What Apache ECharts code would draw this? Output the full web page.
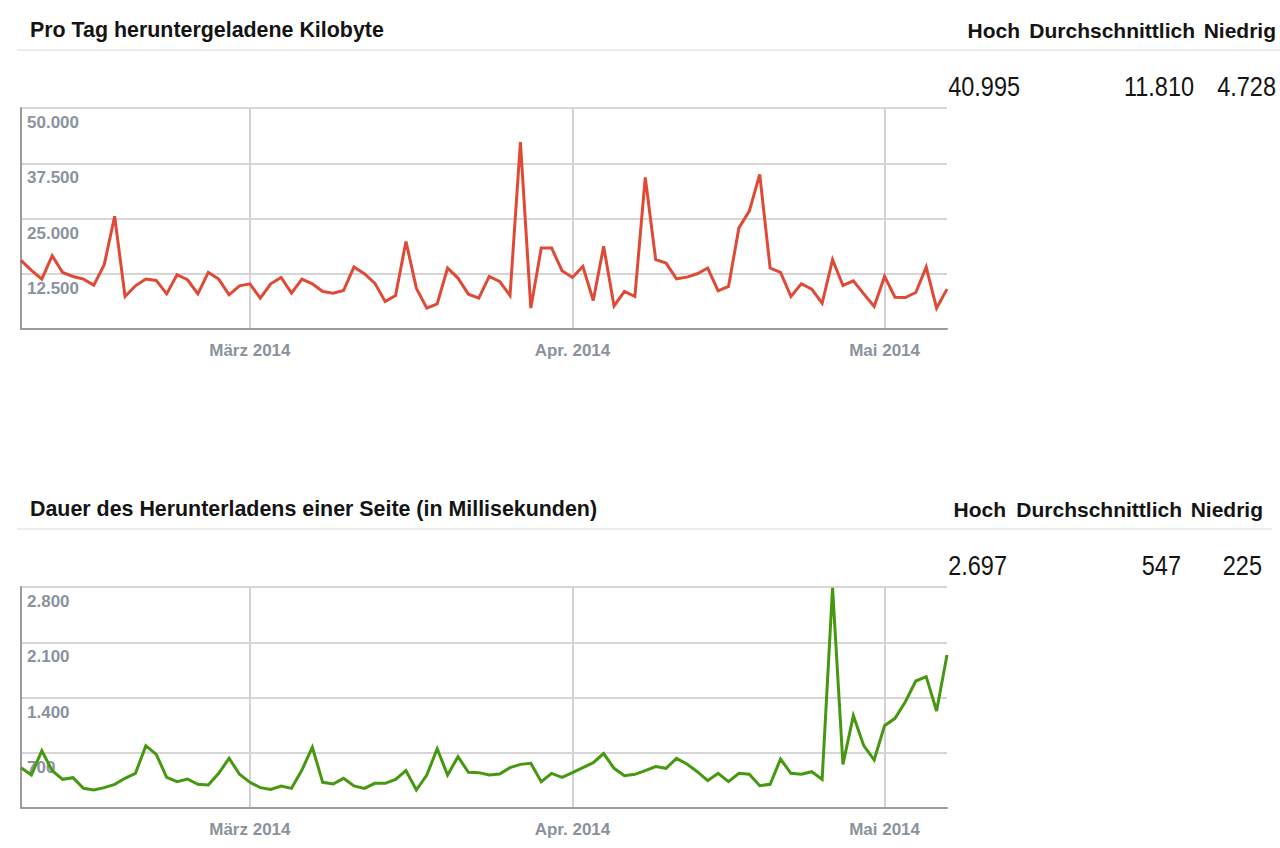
<!DOCTYPE html>
<html>
<head>
<meta charset="utf-8">
<script src="https://cdn.jsdelivr.net/npm/echarts@6/dist/echarts.min.js"></script>
<style>
html,body{margin:0;padding:0;background:#fff;}
#c{width:1280px;height:848px;}
</style>
</head>
<body>
<div id="c"></div>
<script>
// ---- data ----
const startDate = '2014-02-07';
const dayCount = 90;
const monthLabels = { '2014-03-01': 'März 2014', '2014-04-01': 'Apr. 2014', '2014-05-01': 'Mai 2014' };

const kbTitle = 'Pro Tag heruntergeladene Kilobyte';
const msTitle = 'Dauer des Herunterladens einer Seite (in Millisekunden)';
const statLabels = ['Hoch', 'Durchschnittlich', 'Niedrig'];
const kbStats = ['40.995', '11.810', '4.728'];
const msStats = ['2.697', '547', '225'];

const kbValues = [
  15530, 13260, 11290, 16590, 12800, 11890, 11290, 9920, 14550, 25500,
  7350, 9770, 11290, 10990, 7950, 12270, 11140, 7950, 12800, 11290,
  7730, 9770, 10230, 6970, 10230, 11670, 8110, 11290, 10230, 8490,
  8110, 8710, 14020, 12500, 10380, 6210, 7580, 19800, 9240, 4730,
  5680, 13790, 11520, 7880, 6970, 11890, 10760, 7580, 42300, 4730,
  18330, 18330, 13180, 11670, 14170, 6440, 18700, 5230, 8490, 7350,
  34300, 15680, 14920, 11360, 11740, 12500, 13790, 8640, 9620, 22880,
  26670, 35000, 13790, 12800, 7350, 10230, 9020, 5830, 15700, 9850,
  10910, 7950, 5080, 11890, 7200, 7120, 8260, 14000, 4730, 9020
];
const msValues = [
  511, 418, 726, 473, 363, 384, 249, 228, 258, 300,
  376, 439, 790, 680, 389, 334, 367, 300, 291, 439,
  630, 427, 325, 258, 236, 279, 249, 481, 770, 325,
  304, 376, 279, 249, 312, 312, 363, 473, 228, 418,
  750, 418, 650, 452, 448, 418, 431, 511, 553, 566,
  334, 439, 389, 448, 511, 574, 690, 503, 410, 427,
  473, 524, 503, 629, 557, 460, 346, 439, 334, 439,
  427, 283, 300, 620, 439, 427, 460, 363, 2790, 553,
  1170, 790, 608, 1043, 1136, 1347, 1609, 1664, 1229, 1938
];
const kbTicks = { min: 0, max: 50000, interval: 12500 };
const msTicks = { min: 0, max: 2800, interval: 700 };

// ---- build categories ----
const categories = [];
(function () {
  const d0 = new Date(startDate + 'T00:00:00Z');
  for (let i = 0; i < dayCount; i++) {
    const d = new Date(d0.getTime() + i * 86400000);
    categories.push(d.toISOString().slice(0, 10));
  }
})();

const FONT = '"Liberation Sans", Arial, sans-serif';
const labelColor = '#8a939d';
const fmtDe = v => v === 0 ? '' : String(v).replace(/\B(?=(\d{3})+(?!\d))/g, '.');
const isMonthStart = (idx, val) => Object.prototype.hasOwnProperty.call(monthLabels, val);

function xAxisFor(gridIndex) {
  return {
    type: 'category', gridIndex, data: categories, boundaryGap: false,
    axisLine: { show: true, lineStyle: { color: '#9c9c9c', width: 2 } },
    axisTick: { show: false },
    axisLabel: {
      interval: isMonthStart, formatter: v => monthLabels[v] || '',
      color: labelColor, fontFamily: FONT, fontWeight: 'bold', fontSize: 17, margin: 13
    },
    splitLine: { show: true, interval: isMonthStart, lineStyle: { color: '#d2d2d2', width: 2 } }
  };
}
function yAxisFor(gridIndex, t) {
  return {
    type: 'value', gridIndex, min: t.min, max: t.max, interval: t.interval,
    axisLine: { show: true, lineStyle: { color: '#9c9c9c', width: 2 } },
    axisTick: { show: false },
    axisLabel: {
      inside: true, formatter: fmtDe, color: labelColor, fontFamily: FONT,
      fontWeight: 'bold', fontSize: 17, margin: 6, verticalAlign: 'top', padding: [6, 0, 0, 0]
    },
    splitLine: { show: true, lineStyle: { color: '#d6d6d6', width: 2 } }
  };
}

function headerGraphics(titleText, titleY, lineY, lineRight, labelRights, stats, statRights, valueY) {
  const g = [];
  g.push({ type: 'text', x: 30, y: titleY, style: { text: titleText, font: 'bold 21.4px ' + FONT, fill: '#141414', verticalAlign: 'middle' } });
  g.push({ type: 'line', shape: { x1: 17, y1: lineY, x2: lineRight, y2: lineY }, style: { stroke: '#ececec', lineWidth: 2 } });
  statLabels.forEach((s, i) => {
    g.push({ type: 'text', x: labelRights[i], y: titleY, style: { text: s, font: 'bold 21px ' + FONT, fill: '#141414', align: 'right', verticalAlign: 'middle' } });
  });
  stats.forEach((s, i) => {
    g.push({ type: 'text', x: statRights[i], y: valueY, scaleX: 0.87, style: { text: s, font: '27px ' + FONT, fill: '#141414', align: 'right', verticalAlign: 'middle' } });
  });
  return g;
}

const chart = echarts.init(document.getElementById('c'), null, { renderer: 'svg' });
chart.setOption({
  animation: false,
  backgroundColor: '#fff',
  grid: [
    { left: 21, top: 108, width: 926, height: 221, containLabel: false },
    { left: 21, top: 587, width: 926, height: 221, containLabel: false }
  ],
  xAxis: [xAxisFor(0), xAxisFor(1)],
  yAxis: [yAxisFor(0, kbTicks), yAxisFor(1, msTicks)],
  series: [
    { type: 'line', xAxisIndex: 0, yAxisIndex: 0, data: kbValues, showSymbol: false, symbol: 'none',
      lineStyle: { color: '#df4a37', width: 3, join: 'miter' }, z: 1 },
    { type: 'line', xAxisIndex: 1, yAxisIndex: 1, data: msValues, showSymbol: false, symbol: 'none',
      lineStyle: { color: '#45980f', width: 3, join: 'miter' }, z: 1 }
  ],
  graphic: [
    ...headerGraphics(kbTitle, 30, 50, 1280, [1020, 1195, 1276], kbStats, [1020, 1194, 1276], 86),
    ...headerGraphics(msTitle, 509, 529, 1272, [1006, 1182, 1263], msStats, [1007, 1181, 1262], 565)
  ]
});
</script>
</body>
</html>
